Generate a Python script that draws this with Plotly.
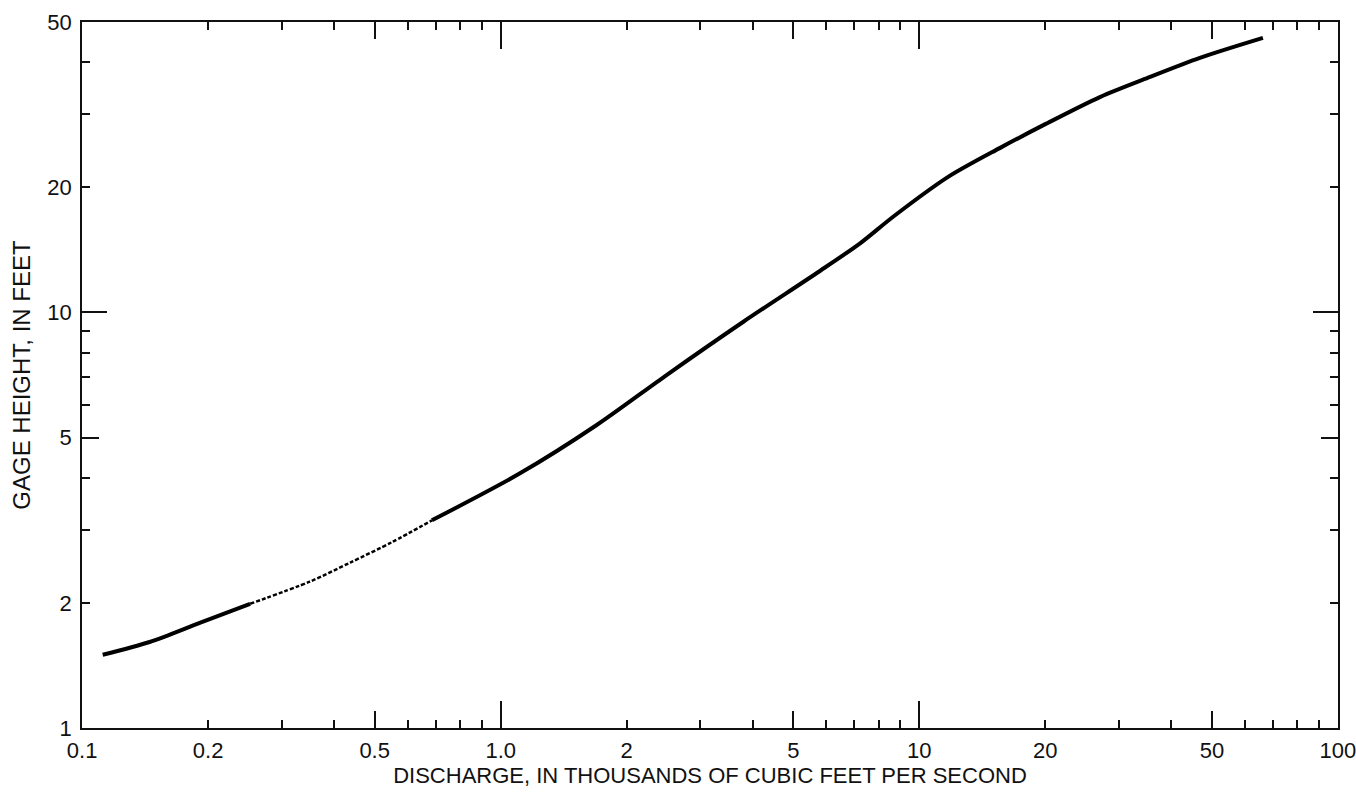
import plotly.graph_objects as go

# Rating curve (discharge in thousands cfs, gage height ft)
q_low = [0.112, 0.145, 0.191, 0.252]
h_low = [1.50, 1.61, 1.79, 1.99]

q_est = [0.252, 0.35, 0.437, 0.55, 0.685]
h_est = [1.99, 2.25, 2.50, 2.80, 3.16]

q_high = [0.685, 1.112, 1.696, 2.49, 3.80, 5.68, 7.22, 8.66, 11.72, 15.6, 20.0, 27.0, 35.6, 46.8, 66.2]
h_high = [3.16, 4.10, 5.36, 7.07, 9.50, 12.43, 14.67, 17.0, 21.2, 24.9, 28.4, 33.0, 36.9, 41.0, 45.8]

x_tickvals = [0.1, 0.2, 0.3, 0.4, 0.5, 0.6, 0.7, 0.8, 0.9, 1, 2, 3, 4, 5, 6, 7, 8, 9, 10,
              20, 30, 40, 50, 60, 70, 80, 90, 100]
x_labeled = {0.1: "0.1", 0.2: "0.2", 0.5: "0.5", 1: "1.0", 2: "2", 5: "5", 10: "10",
             20: "20", 50: "50", 100: "100"}
x_mid = [0.5, 5, 50]
x_major = [1, 10]

y_tickvals = [1, 2, 3, 4, 5, 6, 7, 8, 9, 10, 20, 30, 40, 50]
y_labeled = {1: "1", 2: "2", 5: "5", 10: "10", 20: "20", 50: "50"}
y_mid = [5]
y_major = [10]

x_title = "DISCHARGE, IN THOUSANDS OF CUBIC FEET PER SECOND"
y_title = "GAGE HEIGHT, IN FEET"

FONT = "Liberation Sans, Arial, sans-serif"
xr = [-1.0002, 2.0002]
yr = [-0.0002, 1.6992]

fig = go.Figure()
fig.add_trace(go.Scatter(x=q_low, y=h_low, mode="lines", xaxis="x2", yaxis="y2",
                         line=dict(color="black", width=4, shape="spline", smoothing=0.8)))
fig.add_trace(go.Scatter(x=q_est, y=h_est, mode="lines", xaxis="x3", yaxis="y3",
                         line=dict(color="black", width=2.5, dash="4px,2px", shape="spline", smoothing=0.8)))
fig.add_trace(go.Scatter(x=q_high, y=h_high, mode="lines", xaxis="x", yaxis="y",
                         line=dict(color="black", width=4, shape="spline", smoothing=0.8)))

common = dict(type="log", showgrid=False, zeroline=False, showline=True, linecolor="#111",
              linewidth=1.5, ticks="inside", tickcolor="#111", tickwidth=1.5, mirror="ticks",
              automargin=False)

fig.update_layout(
    width=1356, height=793,
    margin=dict(l=82, r=18, t=22, b=65),
    plot_bgcolor="white", paper_bgcolor="white",
    showlegend=False,
    font=dict(family=FONT, size=22, color="#111"),
    xaxis=dict(**common, range=xr, tickmode="array", tickvals=x_tickvals,
               ticktext=[x_labeled.get(v, "") for v in x_tickvals], ticklen=8,
               ticklabeloverflow="allow", ticklabelstandoff=2,
               title=dict(text=x_title, font=dict(size=22), standoff=4)),
    yaxis=dict(**common, range=yr, tickmode="array", tickvals=y_tickvals,
               ticktext=[y_labeled.get(v, "") for v in y_tickvals], ticklen=8,
               ticklabeloverflow="allow", ticklabelstandoff=4,
               title=dict(text=y_title, font=dict(size=24), standoff=10)),
    xaxis2=dict(**common, range=xr, overlaying="x", anchor="y", side="bottom",
                tickmode="array", tickvals=x_mid, showticklabels=False, ticklen=17),
    xaxis3=dict(**common, range=xr, overlaying="x", anchor="y", side="bottom",
                tickmode="array", tickvals=x_major, showticklabels=False, ticklen=27),
    yaxis2=dict(**common, range=yr, overlaying="y", anchor="x", side="left",
                tickmode="array", tickvals=y_mid, showticklabels=False, ticklen=17),
    yaxis3=dict(**common, range=yr, overlaying="y", anchor="x", side="left",
                tickmode="array", tickvals=y_major, showticklabels=False, ticklen=25),
)

fig.write_html("out.html")
